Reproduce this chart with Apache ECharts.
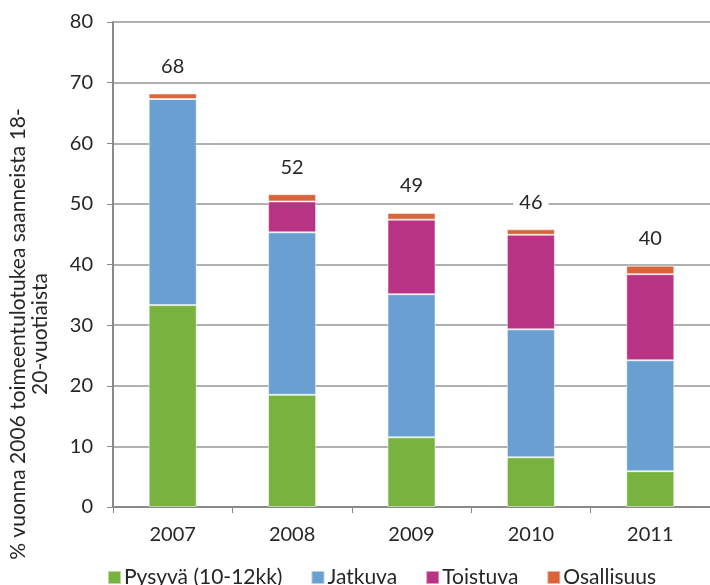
<!DOCTYPE html>
<html><head><meta charset="utf-8">
<script src="https://cdn.jsdelivr.net/npm/echarts@6/dist/echarts.min.js"></script>
<style>html,body{margin:0;padding:0;background:#fff}#c{width:710px;height:585px}</style>
</head><body><div id="c"></div>
<script>
const categories = ['2007','2008','2009','2010','2011'];
const pysyva = [33.3, 18.5, 11.5, 8.2, 5.9];
const jatkuva = [34.0, 26.8, 23.6, 21.1, 18.3];
const toistuva = [0, 5.1, 12.3, 15.6, 14.2];
const osallisuus = [0.9, 1.2, 1.1, 0.9, 1.4];
const totalLabels = ['68','52','49','46','40'];
const seriesNames = ['Pysyvä (10-12kk)','Jatkuva','Toistuva','Osallisuus'];
const yTicks = [0,10,20,30,40,50,60,70,80];
const yTitle = '% vuonna 2006 toimeentulotukea saanneista 18-\n20-vuotiaista';

const FONT = 'Lato';
const TXT = '#262626';
const colors = ['#78b33f','#6a9fd1','#b93385','#d9643a'];
const dataSets = [pysyva, jatkuva, toistuva, osallisuus];

const chart = echarts.init(document.getElementById('c'), null, {renderer:'canvas'});
const series = dataSets.map((d,i)=>({
  name: seriesNames[i], type:'bar', stack:'s', data:d, barWidth:48,
  itemStyle:{color:colors[i], borderColor:'rgba(255,255,255,0.5)', borderWidth:1},
  label: i===3 ? {show:true, position:'top', distance:15, color:TXT, fontFamily:FONT, fontSize:20,
    backgroundColor:'#fff', padding:[2,6],
    formatter:(p)=>totalLabels[p.dataIndex]} : {show:false}
}));
chart.setOption({
  animation:false,
  textStyle:{fontFamily:FONT},
  grid:{left:113, right:0, top:22, bottom:78, containLabel:false},
  legend:{top:562, left:102, itemWidth:13, itemHeight:13, itemGap:28, icon:'rect',
    textStyle:{fontFamily:FONT, fontSize:21, color:TXT, padding:[0,0,0,-2]}, data:seriesNames},
  xAxis:{type:'category', data:categories,
    axisLine:{lineStyle:{color:'#8a8a8a', width:2}},
    axisTick:{show:true, alignWithLabel:false, length:6, lineStyle:{color:'#8a8a8a'}},
    axisLabel:{color:TXT, fontFamily:FONT, fontSize:20, margin:18}},
  yAxis:{type:'value', min:yTicks[0], max:yTicks[yTicks.length-1], interval:10,
    axisLine:{show:true, lineStyle:{color:'#8a8a8a', width:2}},
    axisTick:{show:true, length:6, lineStyle:{color:'#8a8a8a'}},
    splitLine:{lineStyle:{color:'#b0b0b0', width:2}},
    axisLabel:{color:TXT, fontFamily:FONT, fontSize:20, margin:20}},
  graphic:[{type:'text', x:29, y:334, rotation:Math.PI/2,
    style:{text:yTitle, fontFamily:FONT, fontSize:21, fill:TXT, align:'center', verticalAlign:'middle', lineHeight:22}}],
  series
});
</script></body></html>
